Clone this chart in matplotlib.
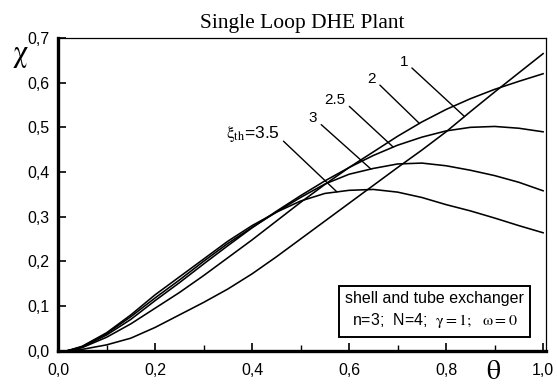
import numpy as np
import matplotlib
matplotlib.use("Agg")
import matplotlib.pyplot as plt
from matplotlib.ticker import MultipleLocator, FuncFormatter

# theta grid and curves (chi vs theta, one per xi_th)
theta = [0.02, 0.05, 0.10, 0.15, 0.20, 0.25, 0.30, 0.35, 0.40, 0.45, 0.50,
         0.55, 0.60, 0.65, 0.70, 0.75, 0.80, 0.85, 0.90, 0.95, 1.00]

chi_1 = [0.0, 0.003, 0.013, 0.028, 0.052, 0.080, 0.108, 0.138, 0.172, 0.210, 0.250,
         0.290, 0.330, 0.370, 0.410, 0.449, 0.490, 0.535, 0.579, 0.622, 0.665]
chi_2 = [0.0, 0.007, 0.030, 0.060, 0.095, 0.130, 0.168, 0.208, 0.248, 0.290, 0.332,
         0.372, 0.410, 0.445, 0.480, 0.512, 0.540, 0.564, 0.585, 0.603, 0.620]
chi_25 = [0.0, 0.008, 0.035, 0.070, 0.112, 0.152, 0.194, 0.235, 0.275, 0.312, 0.347,
          0.380, 0.410, 0.437, 0.460, 0.478, 0.492, 0.500, 0.502, 0.498, 0.490]
chi_3 = [0.0, 0.009, 0.038, 0.076, 0.118, 0.158, 0.200, 0.240, 0.276, 0.310, 0.343,
         0.373, 0.395, 0.408, 0.418, 0.420, 0.414, 0.404, 0.392, 0.377, 0.358]
chi_35 = [0.0, 0.010, 0.040, 0.080, 0.125, 0.165, 0.205, 0.245, 0.280, 0.310, 0.335,
          0.352, 0.359, 0.361, 0.355, 0.343, 0.327, 0.313, 0.297, 0.280, 0.264]

curves = [chi_1, chi_2, chi_25, chi_3, chi_35]
curve_labels = ["1", "2", "2.5", "3", r"$\mathrm{\xi_{th}}$=3.5"]
# where each leader line meets its curve, and where its label sits
leader_theta = [0.838, 0.745, 0.691, 0.645, 0.575]
label_pos = [(0.713, 0.647), (0.647, 0.609), (0.571, 0.561), (0.526, 0.520), (0.457, 0.486)]

plt.rcParams['mathtext.fontset'] = 'stix'
sans = "Liberation Sans"
serif = "Liberation Serif"

fig = plt.figure(figsize=(5.57, 3.85), dpi=100)
ax = fig.add_axes([58 / 557, 1 - 350.7 / 385, 488 / 557, (350.7 - 38) / 385])

for chi, lab, t, pos in zip(curves, curve_labels, leader_theta, label_pos):
    ax.plot(theta, chi, color='black', lw=1.15, solid_joinstyle='round')
    is_xi = '$' in lab
    ax.annotate(lab, xy=(t, np.interp(t, theta, chi)), xytext=pos,
                ha='right' if is_xi else 'center', va='center',
                fontsize=12.5 if is_xi else 11, family=sans,
                arrowprops=dict(arrowstyle='-', color='black', lw=1.0,
                                relpos=(1.0, 0.3), shrinkA=1, shrinkB=0))

ax.set_xlim(0, 1.006)
ax.set_ylim(0, 0.7)
ax.xaxis.set_major_locator(MultipleLocator(0.2))
ax.xaxis.set_minor_locator(MultipleLocator(0.1))
ax.yaxis.set_major_locator(MultipleLocator(0.1))
fmt = FuncFormatter(lambda v, p: f"{v:.1f}".replace('.', ','))
ax.xaxis.set_major_formatter(fmt)
ax.yaxis.set_major_formatter(fmt)

ax.tick_params(axis='both', which='major', direction='in', length=6, width=1.2,
               labelsize=11.5, top=False, right=False)
ax.tick_params(axis='x', which='minor', direction='in', length=4, width=1.0, top=False)
ax.tick_params(axis='x', which='major', pad=9)
ax.tick_params(axis='y', which='major', pad=6)
for lbl in ax.get_xticklabels() + ax.get_yticklabels():
    lbl.set_family(sans)

ax.spines['left'].set_linewidth(2.4)
ax.spines['bottom'].set_linewidth(2.4)
ax.spines['top'].set_linewidth(0.9)
ax.spines['right'].set_linewidth(0.9)

ax.set_title("Single Loop DHE Plant", family=serif, fontsize=15.5, pad=7)

fig.text(20 / 557, 1 - 56 / 385, r"$\mathrm{\chi}$", fontsize=22, ha='center', va='center')
fig.text(493 / 557, 1 - 371 / 385, r"$\mathrm{\theta}$", fontsize=20, ha='center', va='center')

ax.text(0.776, 0.090,
        "shell and tube exchanger\n" + r"n=3;  N=4;  $\mathrm{\gamma=1;}$  $\mathrm{\omega=0}$",
        ha='center', va='center', fontsize=11.5, family=sans, linespacing=1.4,
        bbox=dict(boxstyle='square,pad=0.4', fc='white', ec='black', lw=1.4))

fig.savefig("out.png", dpi=100)
